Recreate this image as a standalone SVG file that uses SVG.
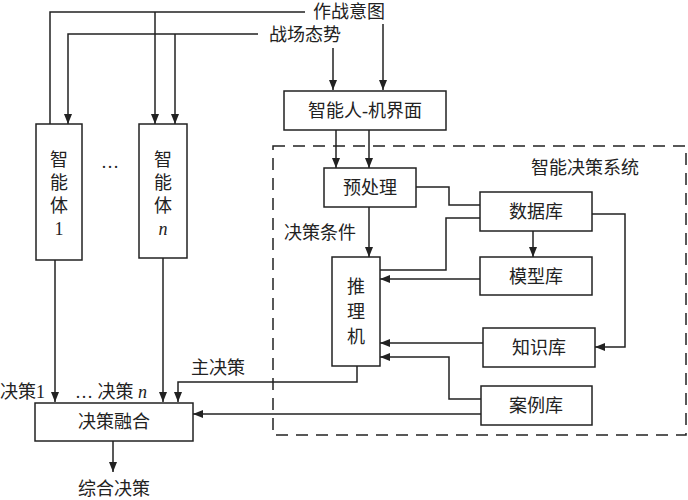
<svg xmlns="http://www.w3.org/2000/svg" width="688" height="500" viewBox="0 0 688 500">
<style>
text{font-family:"Liberation Serif","Noto Sans CJK SC",serif;font-size:18px;fill:#222}
.b{fill:#fff;stroke:#222;stroke-width:1.5}
.c{fill:none;stroke:#222;stroke-width:1.5}
.m{text-anchor:middle}
</style>
<defs><marker id="a" viewBox="0 0 10 10" refX="10" refY="5" markerWidth="10" markerHeight="10" markerUnits="userSpaceOnUse" orient="auto"><path d="M0,1L10,5L0,9z" fill="#222"/></marker></defs>
<rect x="273" y="146" width="413" height="289" fill="none" stroke="#222" stroke-width="1.5" stroke-dasharray="12,8"/>
<text x="585" y="174" class="m">智能决策系统</text>
<g id="connectors" class="c">
<path d="M305,12H50V124"/>
<path d="M155,12V124" marker-end="url(#a)"/>
<path d="M258,34H68V124" marker-end="url(#a)"/>
<path d="M175,34V124" marker-end="url(#a)"/>
<path d="M383,24V90" marker-end="url(#a)"/>
<path d="M333,48V90" marker-end="url(#a)"/>
<path d="M336,130V168" marker-end="url(#a)"/>
<path d="M369,130V168" marker-end="url(#a)"/>
<path d="M369,207V257" marker-end="url(#a)"/>
<path d="M416,187H449V205H480"/>
<path d="M480,218H446V270H380"/>
<path d="M480,279H380" marker-end="url(#a)"/>
<path d="M483,343H380" marker-end="url(#a)"/>
<path d="M481,399H449V357H380" marker-end="url(#a)"/>
<path d="M592,214H625V347H595" marker-end="url(#a)"/>
<path d="M533,231V257" marker-end="url(#a)"/>
<path d="M357,366V382H178V402" marker-end="url(#a)"/>
<path d="M481,414H193" marker-end="url(#a)"/>
<path d="M55,260V402" marker-end="url(#a)"/>
<path d="M163,258V402" marker-end="url(#a)"/>
<path d="M113,441V472" marker-end="url(#a)"/>
</g>
<text x="349" y="18" class="m">作战意图</text>
<text x="305" y="41" class="m">战场态势</text>
<text x="320" y="239" class="m">决策条件</text>
<text x="218" y="374" class="m">主决策</text>
<text x="0" y="398">决策1</text>
<text x="75" y="398">… 决策 <tspan font-style="italic">n</tspan></text>
<text x="110" y="168" class="m">…</text>
<text x="114" y="495" class="m">综合决策</text>
<g id="hmi"><rect class="b" x="284" y="91" width="162" height="39"/><text x="365" y="117" class="m">智能人-机界面</text></g>
<g id="agent1"><rect class="b" x="36" y="124" width="46" height="136"/><text class="m" x="59" y="166">智</text><text class="m" x="59" y="189">能</text><text class="m" x="59" y="212">体</text><text class="m" x="59" y="235">1</text></g>
<g id="agentn"><rect class="b" x="139" y="124" width="48" height="134"/><text class="m" x="163" y="166">智</text><text class="m" x="163" y="189">能</text><text class="m" x="163" y="212">体</text><text class="m" x="163" y="235" font-style="italic">n</text></g>
<g id="pre"><rect class="b" x="324" y="168" width="92" height="39"/><text x="370" y="194" class="m">预处理</text></g>
<g id="db"><rect class="b" x="480" y="192" width="112" height="39"/><text x="536" y="218" class="m">数据库</text></g>
<g id="model"><rect class="b" x="480" y="257" width="112" height="38"/><text x="536" y="283" class="m">模型库</text></g>
<g id="know"><rect class="b" x="483" y="328" width="112" height="39"/><text x="539" y="354" class="m">知识库</text></g>
<g id="case"><rect class="b" x="481" y="386" width="111" height="39"/><text x="536" y="412" class="m">案例库</text></g>
<g id="infer"><rect class="b" x="332" y="257" width="48" height="109"/><text class="m" x="356" y="293">推</text><text class="m" x="356" y="318">理</text><text class="m" x="356" y="343">机</text></g>
<g id="fusion"><rect class="b" x="35" y="403" width="158" height="38"/><text x="114" y="428" class="m">决策融合</text></g>
</svg>
